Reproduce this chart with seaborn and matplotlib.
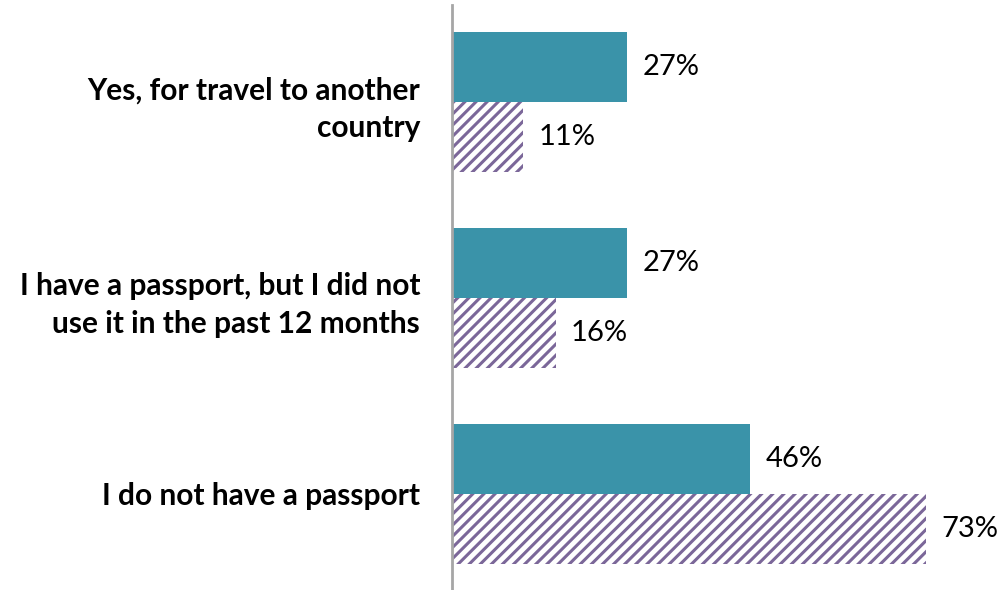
import matplotlib
matplotlib.use("Agg")
import matplotlib.pyplot as plt
import seaborn as sns
import pandas as pd

categories = ["Yes, for travel to another\ncountry",
              "I have a passport, but I did not\nuse it in the past 12 months",
              "I do not have a passport"]
series_names = ["Series A", "Series B"]
values_a = [27, 27, 46]
values_b = [11, 16, 73]

df = pd.DataFrame({
    "category": categories * 2,
    "series": [series_names[0]] * 3 + [series_names[1]] * 3,
    "value": values_a + values_b,
})

sns.set_theme(style="white")
plt.rcParams["font.family"] = ["Lato", "DejaVu Sans"]
plt.rcParams["hatch.linewidth"] = 2.2
plt.rcParams["hatch.color"] = "#7B6799"

fig = plt.figure(figsize=(10, 5.9), dpi=100)
ax = fig.add_axes([0.452, 0.0, 0.545, 585 / 590])

teal = "#3A93A9"
sns.barplot(data=df, y="category", x="value", hue="series", order=categories,
            hue_order=series_names, palette=[teal, "white"], width=0.71,
            gap=0, dodge=True, ax=ax, legend=False, linewidth=0, saturation=1)

for i, cont in enumerate(ax.containers):
    for bar in cont:
        if i == 1:
            bar.set_hatch("///")
            bar.set_edgecolor("#7B6799")
            bar.set_linewidth(0)
    ax.bar_label(cont, labels=[f"{v:.0f}%" for v in cont.datavalues],
                 padding=11, fontsize=21, color="black")

ax.set_xlim(0, 84)
ax.set_ylim(2.49, -0.495)
ax.set_xlabel("")
ax.set_ylabel("")
ax.set_xticks([])
for s in ["top", "right", "bottom"]:
    ax.spines[s].set_visible(False)
ax.spines["left"].set_color("#A6A6A6")
ax.spines["left"].set_linewidth(2)
ax.tick_params(axis="y", length=0, pad=23)
for lab in ax.get_yticklabels():
    lab.set_fontweight("bold")
    lab.set_fontsize(21.5)
    lab.set_multialignment("right")
    lab.set_color("black")
    lab.set_linespacing(1.4)

fig.savefig("out.png", dpi=100)
